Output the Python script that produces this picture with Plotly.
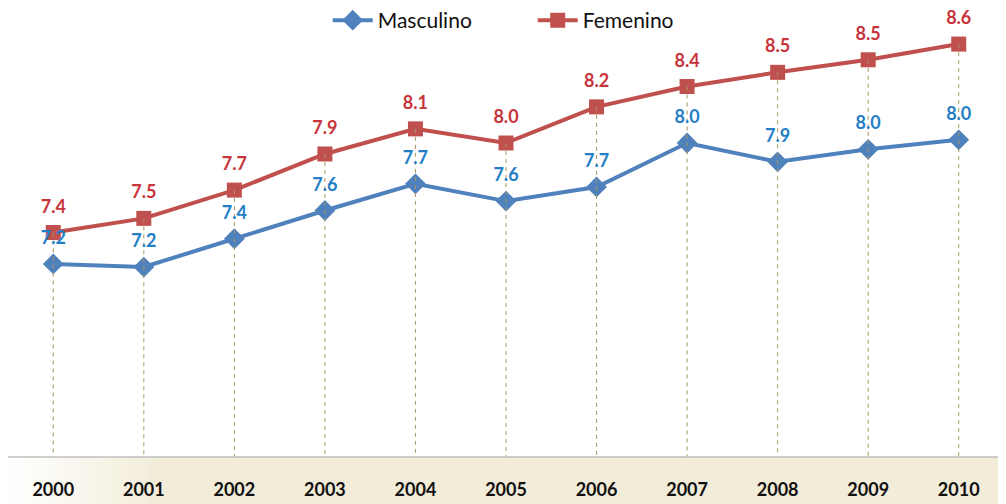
import plotly.graph_objects as go

years = ["2000", "2001", "2002", "2003", "2004", "2005", "2006", "2007", "2008", "2009", "2010"]
masculino = [7.23, 7.21, 7.39, 7.57, 7.74, 7.63, 7.72, 8.00, 7.88, 7.96, 8.02]
femenino = [7.43, 7.52, 7.70, 7.93, 8.09, 8.00, 8.23, 8.36, 8.45, 8.53, 8.63]
masc_labels = ["7.2", "7.2", "7.4", "7.6", "7.7", "7.6", "7.7", "8.0", "7.9", "8.0", "8.0"]
fem_labels = ["7.4", "7.5", "7.7", "7.9", "8.1", "8.0", "8.2", "8.4", "8.5", "8.5", "8.6"]

# page body has an 8px margin, so the figure is sized to fit the 1006x504 window
W, H = 998, 496
ML, MR, MT, MB = 0, 2, 0, 47
PW = W - ML - MR
PH = H - MT - MB
PX_PER_UNIT = 157.0
Y_MIN = 6.0
Y_MAX = Y_MIN + PH / PX_PER_UNIT

BLUE = "#4f81bd"
RED = "#c0504d"
BLUE_TXT = "#237ec6"
RED_TXT = "#c8343b"
FONT = "Lato"

fig = go.Figure()

fig.add_trace(go.Scatter(
    x=years, y=masculino, name="Masculino", mode="lines+markers",
    line=dict(color=BLUE, width=4),
    marker=dict(symbol="diamond", size=16, color=BLUE),
))
fig.add_trace(go.Scatter(
    x=years, y=femenino, name="Femenino", mode="lines+markers",
    line=dict(color=RED, width=4),
    marker=dict(symbol="square", size=15, color=RED),
))

# drop lines from the highest series to the axis
dx, dy = [], []
for yr, v in zip(years, femenino):
    dx += [yr, yr, None]
    dy += [v, Y_MIN, None]
fig.add_trace(go.Scatter(
    x=dx, y=dy, mode="lines", showlegend=False, hoverinfo="skip",
    line=dict(color="#a6955f", width=1, dash="4px,4px"),
))

# data labels (drawn last so they sit on top)
fig.add_trace(go.Scatter(
    x=years, y=femenino, text=fem_labels, mode="markers+text", textposition="top center",
    marker=dict(size=23, opacity=0), showlegend=False, hoverinfo="skip", cliponaxis=False,
    textfont=dict(family=FONT, size=18, color=RED_TXT, weight="bold"),
))
fig.add_trace(go.Scatter(
    x=years, y=masculino, text=masc_labels, mode="markers+text", textposition="top center",
    marker=dict(size=23, opacity=0), showlegend=False, hoverinfo="skip", cliponaxis=False,
    textfont=dict(family=FONT, size=18, color=BLUE_TXT, weight="bold"),
))

# bottom beige band with left fade
shapes = []
band_y0 = -MB / PH
base = (242, 236, 217)
fade_px = 150
n = 15
for i in range(n):
    x0p = i * fade_px / n
    x1p = (i + 1) * fade_px / n
    op = (i + 0.5) / n
    shapes.append(dict(type="rect", xref="paper", yref="paper",
                       x0=(x0p - ML) / PW, x1=(x1p - ML) / PW, y0=band_y0, y1=0,
                       fillcolor="rgba(%d,%d,%d,%.3f)" % (base + (op,)),
                       line=dict(width=0), layer="below"))
shapes.append(dict(type="rect", xref="paper", yref="paper",
                   x0=(fade_px - ML) / PW, x1=(W - ML) / PW, y0=band_y0, y1=0,
                   fillcolor="rgb(%d,%d,%d)" % base, line=dict(width=0), layer="below"))
shapes.append(dict(type="line", xref="paper", yref="paper", x0=0, x1=1, y0=0, y1=0,
                   line=dict(color="#bfbfbf", width=1.5)))

fig.update_layout(
    width=W, height=H,
    margin=dict(l=ML, r=MR, t=MT, b=MB, autoexpand=False),
    paper_bgcolor="white", plot_bgcolor="white",
    showlegend=True,
    legend=dict(orientation="h", x=0.321, xanchor="left", y=1 + 8 / PH, yanchor="top",
                font=dict(family=FONT, size=21, color="#111111"),
                entrywidth=150, itemwidth=40, bgcolor="rgba(0,0,0,0)"),
    xaxis=dict(type="category", range=[-0.5, 10.5], showgrid=False, zeroline=False,
               showline=False, ticks="", ticklabelstandoff=20, automargin=False,
               tickfont=dict(family=FONT, size=18, color="#111111", weight="bold")),
    yaxis=dict(range=[Y_MIN, Y_MAX], visible=False, showgrid=False, zeroline=False,
               automargin=False),
    shapes=shapes,
)

fig.write_html("out.html")
